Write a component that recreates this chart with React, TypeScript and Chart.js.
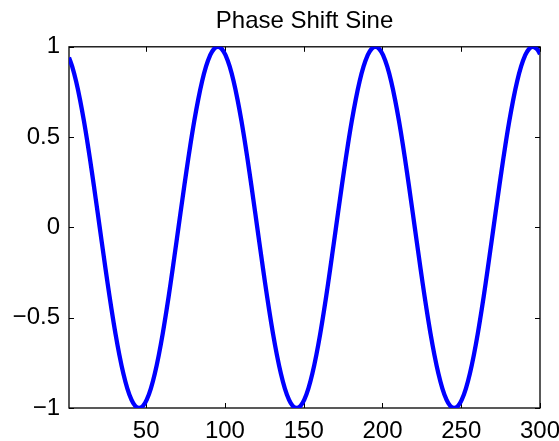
import React, { useEffect, useRef } from "react";
import { Chart, registerables } from "chart.js";

Chart.register(...registerables);

const chartTitle = "Phase Shift Sine";

const xValues = [
  1,
  3, 5.5, 8, 10.5, 13, 15.5, 18, 20.5, 23, 25.5, 28, 30.5, 33, 35.5, 38, 40.5, 43, 45.5, 48, 50.5,
  53, 55.5, 58, 60.5, 63, 65.5, 68, 70.5, 73, 75.5, 78, 80.5, 83, 85.5, 88, 90.5, 93, 95.5, 98, 100.5,
  103, 105.5, 108, 110.5, 113, 115.5, 118, 120.5, 123, 125.5, 128, 130.5, 133, 135.5, 138, 140.5, 143, 145.5, 148, 150.5,
  153, 155.5, 158, 160.5, 163, 165.5, 168, 170.5, 173, 175.5, 178, 180.5, 183, 185.5, 188, 190.5, 193, 195.5, 198, 200.5,
  203, 205.5, 208, 210.5, 213, 215.5, 218, 220.5, 223, 225.5, 228, 230.5, 233, 235.5, 238, 240.5, 243, 245.5, 248, 250.5,
  253, 255.5, 258, 260.5, 263, 265.5, 268, 270.5, 273, 275.5, 278, 280.5, 283, 285.5, 288, 290.5, 293, 295.5, 298,
  300,
];

const yValues = [
  0.941,
  0.891, 0.809, 0.707, 0.588, 0.454, 0.309, 0.156, 0, -0.156, -0.309, -0.454, -0.588, -0.707, -0.809, -0.891, -0.951, -0.988, -1, -0.988, -0.951,
  -0.891, -0.809, -0.707, -0.588, -0.454, -0.309, -0.156, 0, 0.156, 0.309, 0.454, 0.588, 0.707, 0.809, 0.891, 0.951, 0.988, 1, 0.988, 0.951,
  0.891, 0.809, 0.707, 0.588, 0.454, 0.309, 0.156, 0, -0.156, -0.309, -0.454, -0.588, -0.707, -0.809, -0.891, -0.951, -0.988, -1, -0.988, -0.951,
  -0.891, -0.809, -0.707, -0.588, -0.454, -0.309, -0.156, 0, 0.156, 0.309, 0.454, 0.588, 0.707, 0.809, 0.891, 0.951, 0.988, 1, 0.988, 0.951,
  0.891, 0.809, 0.707, 0.588, 0.454, 0.309, 0.156, 0, -0.156, -0.309, -0.454, -0.588, -0.707, -0.809, -0.891, -0.951, -0.988, -1, -0.988, -0.951,
  -0.891, -0.809, -0.707, -0.588, -0.454, -0.309, -0.156, 0, 0.156, 0.309, 0.454, 0.588, 0.707, 0.809, 0.891, 0.951, 0.988, 1, 0.988,
  0.960,
];

const xTicks = [50, 100, 150, 200, 250, 300];
const yTicks = [-1, -0.5, 0, 0.5, 1];
const yTickLabels = ["\u22121", "\u22120.5", "0", "0.5", "1"];

const FONT = "'Liberation Sans', Arial, Helvetica, sans-serif";

const boxPlugin = {
  id: "matlabBox",
  beforeDatasetsDraw(chart: any) {
    const { ctx, chartArea } = chart;
    const { left, right, top, bottom } = chartArea;
    const xs = chart.scales.x;
    const ys = chart.scales.y;
    const len = 5;
    ctx.save();
    ctx.strokeStyle = "#000";
    ctx.lineWidth = 1;
    ctx.beginPath();
    for (const v of xTicks) {
      const px = Math.round(xs.getPixelForValue(v)) + 0.5;
      ctx.moveTo(px, bottom);
      ctx.lineTo(px, bottom - len);
      ctx.moveTo(px, top);
      ctx.lineTo(px, top + len);
    }
    for (const v of yTicks) {
      const py = Math.round(ys.getPixelForValue(v)) + 0.5;
      ctx.moveTo(left, py);
      ctx.lineTo(left + len, py);
      ctx.moveTo(right, py);
      ctx.lineTo(right - len, py);
    }
    ctx.stroke();
    ctx.lineWidth = 1.3;
    ctx.strokeRect(left, top, right - left, bottom - top);
    ctx.restore();
  },
};

export default function App() {
  const canvasRef = useRef<HTMLCanvasElement | null>(null);

  useEffect(() => {
    const canvas = canvasRef.current;
    if (!canvas) return;
    const data = xValues.map((x, i) => ({ x, y: yValues[i] }));
    const chart = new Chart(canvas, {
      type: "line",
      data: {
        datasets: [
          {
            data,
            borderColor: "#0000ff",
            borderWidth: 4.3,
            pointRadius: 0,
            tension: 0.4,
            fill: false,
          },
        ],
      },
      options: {
        animation: false,
        responsive: false,
        devicePixelRatio: 1,
        layout: { padding: { left: 0, right: 19, top: 0, bottom: 0 } },
        plugins: {
          legend: { display: false },
          tooltip: { enabled: false },
          title: {
            display: true,
            text: chartTitle,
            fullSize: false,
            color: "#000",
            font: { family: FONT, size: 24, weight: "normal", lineHeight: 1.2 },
            padding: { top: 7, bottom: 11 },
          },
        },
        scales: {
          x: {
            type: "linear",
            min: 1,
            max: 300,
            grid: { display: false, drawTicks: false, tickLength: 0 },
            border: { display: false },
            ticks: {
              color: "#000",
              font: { family: FONT, size: 24 },
              padding: 9,
              maxRotation: 0,
              autoSkip: false,
            },
            afterBuildTicks: (axis: any) => {
              axis.ticks = xTicks.map((v) => ({ value: v }));
            },
            afterFit: (s: any) => {
              s.height = 33;
              s.paddingLeft = 0;
              s.paddingRight = 0;
            },
          },
          y: {
            type: "linear",
            min: -1,
            max: 1,
            grid: { display: false, drawTicks: false, tickLength: 0 },
            border: { display: false },
            ticks: {
              color: "#000",
              font: { family: FONT, size: 24 },
              padding: 9,
              callback: (value: any) => {
                const i = yTicks.indexOf(Number(value));
                return i >= 0 ? yTickLabels[i] : "";
              },
            },
            afterBuildTicks: (axis: any) => {
              axis.ticks = yTicks.map((v) => ({ value: v }));
            },
            afterFit: (s: any) => {
              s.width = 69;
              s.paddingTop = 0;
              s.paddingBottom = 0;
            },
          },
        },
      },
      plugins: [boxPlugin],
    });
    return () => chart.destroy();
  }, []);

  return (
    <div style={{ position: "fixed", left: 0, top: 0, width: 559, height: 441, background: "#fff" }}>
      <canvas ref={canvasRef} width={559} height={441} />
    </div>
  );
}
